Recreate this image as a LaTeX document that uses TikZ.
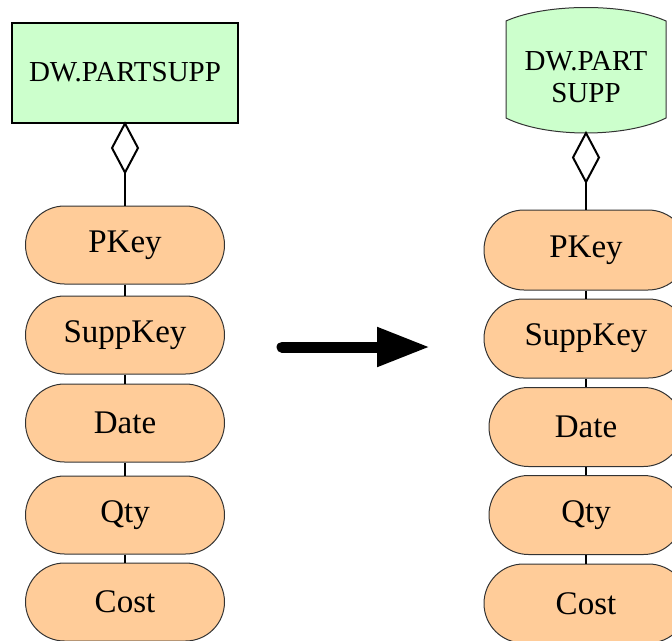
\documentclass[tikz,border=0pt]{standalone}
\usepackage{fontspec}
\setmainfont{Liberation Serif}
\usetikzlibrary{arrows.meta}
\definecolor{entgreen}{HTML}{CCFFCC}
\definecolor{attrorange}{HTML}{FFCC99}
\definecolor{attrborder}{HTML}{333333}
\tikzset{
  entity/.style={draw=black, line width=2pt, fill=entgreen, minimum width=226pt, minimum height=100pt, inner sep=0pt, font=\fontsize{29}{33}\selectfont},
  attrbox/.style={draw=attrborder, line width=1pt, fill=attrorange, minimum width=199pt, minimum height=78pt, rounded corners=39pt, inner sep=0pt, font=\fontsize{33}{36}\selectfont},
  attrboxr/.style={attrbox, minimum height=79pt, rounded corners=39.5pt},
  link/.style={draw=black, line width=2pt},
  diam/.style={draw=black, line width=2pt, fill=white, line join=miter},
}
\begin{document}
\begin{tikzpicture}[x=1pt, y=-1pt]
\useasboundingbox (0,0) rectangle (672,640);
% left side
\node[entity] (e1) at (125,72.5) {DW.PARTSUPP};
\node[attrbox] (l1) at (125,245) {PKey};
\node[attrbox] (l2) at (125,335) {SuppKey};
\node[attrbox] (l3) at (125,423) {Date};
\node[attrbox] (l4) at (125,515) {Qty};
\node[attrbox] (l5) at (125,602) {Cost};
\draw[diam] (e1.south) -- ++(13,24.5) -- ++(-13,24.5) coordinate (d1b) -- ++(-13,-24.5) -- cycle;
\draw[link] (d1b) -- (l1.north);
\draw[link] (l1.south) -- (l2.north);
\draw[link] (l2.south) -- (l3.north);
\draw[link] (l3.south) -- (l4.north);
\draw[link] (l4.south) -- (l5.north);
% arrow
\coordinate (as) at (282,347);
\coordinate (ae) at (430,347);
\draw[line width=11pt, line cap=round, -{Triangle[length=53pt, width=37pt]}] (as) -- (ae);
% right side
\coordinate (e2s) at (586,133);
\draw[line width=1pt, draw=attrborder, fill=entgreen] (506,21) .. controls (546,3) and (626,3) .. (666,21) -- (666,118) .. controls (626,138) and (546,138) .. (506,118) -- cycle;
\node[font=\fontsize{29}{32}\selectfont, align=center, inner sep=0pt] (e2) at (586,77) {DW.PART\\SUPP};
\node[attrboxr, minimum width=204pt, minimum height=80pt, rounded corners=40pt] (r1) at (586,250) {PKey};
\node[attrboxr, minimum width=204pt] (r2) at (586,338.5) {SuppKey};
\node[attrboxr, minimum width=194pt] (r3) at (586,427) {Date};
\node[attrboxr, minimum width=194pt] (r4) at (586,515) {Qty};
\node[attrboxr, minimum width=204pt] (r5) at (586,603.5) {Cost};
\draw[diam] (e2s) -- ++(13,24.5) -- ++(-13,24.5) coordinate (d2b) -- ++(-13,-24.5) -- cycle;
\draw[link] (d2b) -- (r1.north);
\draw[link] (r1.south) -- (r2.north);
\draw[link] (r2.south) -- (r3.north);
\draw[link] (r3.south) -- (r4.north);
\draw[link] (r4.south) -- (r5.north);
\end{tikzpicture}
\end{document}
